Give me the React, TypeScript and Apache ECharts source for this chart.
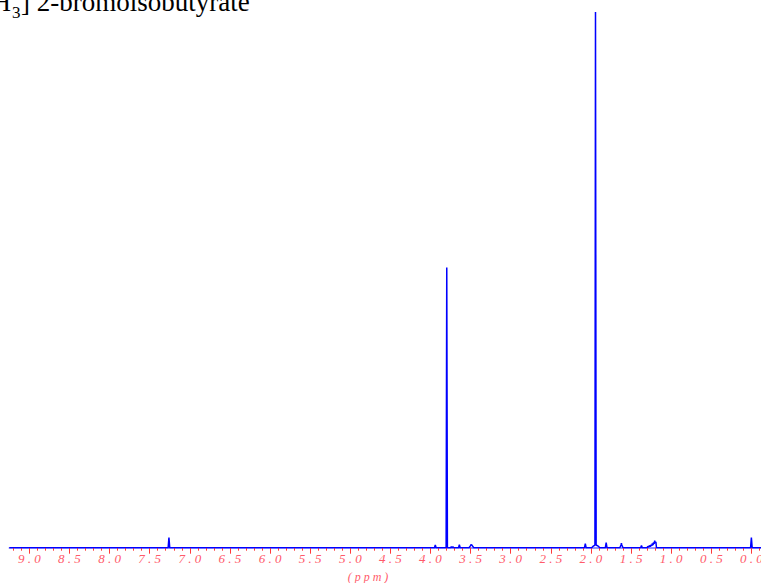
import React, { useEffect, useRef } from "react";
import * as echarts from "echarts";

// [ppm, relative intensity] points of the spectrum (tallest peak = 100)
const spectrum: [number, number][] = [
  [9.25, 0],
  [7.27, 0], [7.26, 1.9], [7.25, 0],
  [3.95, 0], [3.94, 0.5], [3.93, 0],
  [3.805, 0], [3.797, 52.3], [3.789, 0],
  [3.75, 0], [3.74, 0.2], [3.73, 0], [3.72, 0.15], [3.71, 0],
  [3.65, 0], [3.64, 0.55], [3.63, 0],
  [3.52, 0], [3.505, 0.3], [3.495, 0.55], [3.485, 0.5], [3.475, 0.3], [3.46, 0],
  [2.08, 0], [2.07, 0.75], [2.06, 0],
  [1.99, 0], [1.97, 0.3], [1.95, 0.5], [1.943, 100], [1.935, 0.5], [1.91, 0.3], [1.89, 0],
  [1.82, 0], [1.81, 0.95], [1.80, 0],
  [1.64, 0], [1.625, 0.5], [1.62, 0.85], [1.615, 0.5], [1.60, 0],
  [1.38, 0], [1.37, 0.4], [1.36, 0],
  [1.30, 0], [1.29, 0.25], [1.28, 0.1], [1.27, 0.4], [1.26, 0.2], [1.25, 0.55], [1.24, 0.35],
  [1.235, 0.8], [1.225, 0.5], [1.22, 1.0], [1.212, 0.7], [1.205, 1.3], [1.198, 0.9], [1.19, 1.1], [1.183, 0],
  [0.01, 0], [0.0, 1.9], [-0.01, 0],
  [-0.12, 0],
];

const majorTicks = [9.0, 8.5, 8.0, 7.5, 7.0, 6.5, 6.0, 5.5, 5.0, 4.5, 4.0, 3.5, 3.0, 2.5, 2.0, 1.5, 1.0, 0.5, 0.0];
const minorTicks: number[] = [];
for (let i = -1; i <= 92; i++) minorTicks.push(i / 10);

const X_MIN = -0.12;
const X_MAX = 9.25;
const labelColor = "#ff5a6a";
const tickColor = "#ff3a3a";
const serif = "Liberation Serif";

export default function App() {
  const ref = useRef<HTMLDivElement>(null);
  useEffect(() => {
    if (!ref.current) return;
    const chart = echarts.init(ref.current, null, { renderer: "svg" });
    chart.setOption({
      animation: false,
      backgroundColor: "#ffffff",
      grid: {
        left: 9.3,
        right: 0,
        top: 12,
        bottom: 35.3,
        containLabel: false,
        outerBoundsMode: "none",
      },
      xAxis: [
        {
          type: "value",
          min: X_MIN,
          max: X_MAX,
          inverse: true,
          position: "bottom",
          splitLine: { show: false },
          axisLine: { show: true, lineStyle: { color: "#7070ff", width: 1.5 } },
          axisTick: {
            show: true,
            customValues: majorTicks,
            length: 6,
            lineStyle: { color: tickColor, width: 1 },
          },
          axisLabel: {
            show: true,
            customValues: majorTicks,
            formatter: (v: number) => v.toFixed(1).split("").join(" "),
            color: labelColor,
            fontStyle: "italic",
            fontFamily: serif,
            fontSize: 13,
            margin: 4,
            hideOverlap: false,
          },
        },
        {
          type: "value",
          min: X_MIN,
          max: X_MAX,
          inverse: true,
          position: "bottom",
          offset: 0,
          splitLine: { show: false },
          axisLine: { show: false },
          axisTick: {
            show: true,
            customValues: minorTicks,
            length: 3,
            lineStyle: { color: tickColor, width: 1 },
          },
          axisLabel: { show: false },
        },
      ],
      yAxis: { type: "value", min: 0, max: 100, show: false },
      series: [
        {
          type: "line",
          data: spectrum,
          xAxisIndex: 0,
          showSymbol: false,
          symbol: "none",
          lineStyle: { color: "#0000ff", width: 1.5 },
          z: 3,
        },
      ],
      graphic: [
        {
          type: "text",
          x: 11,
          y: 15,
          style: {
            text: "H",
            textAlign: "right",
            textVerticalAlign: "bottom",
            fontSize: 27,
            fontFamily: serif,
            fill: "#000",
          },
        },
        {
          type: "text",
          x: 12,
          y: 21,
          style: {
            text: "3",
            textAlign: "left",
            textVerticalAlign: "bottom",
            fontSize: 17,
            fontFamily: serif,
            fill: "#000",
          },
        },
        {
          type: "text",
          x: 21,
          y: 15,
          style: {
            text: "] 2-bromoisobutyrate",
            textAlign: "left",
            textVerticalAlign: "bottom",
            fontSize: 27,
            fontFamily: serif,
            fill: "#000",
          },
        },
        {
          type: "text",
          x: 368,
          y: 577,
          style: {
            text: "( p p m )",
            textAlign: "center",
            textVerticalAlign: "middle",
            fontSize: 12,
            fontStyle: "italic",
            fontFamily: serif,
            fill: labelColor,
          },
        },
      ],
    });
    return () => chart.dispose();
  }, []);
  return (
    <div
      ref={ref}
      style={{ position: "fixed", left: 0, top: 0, width: 761, height: 583 }}
    />
  );
}
